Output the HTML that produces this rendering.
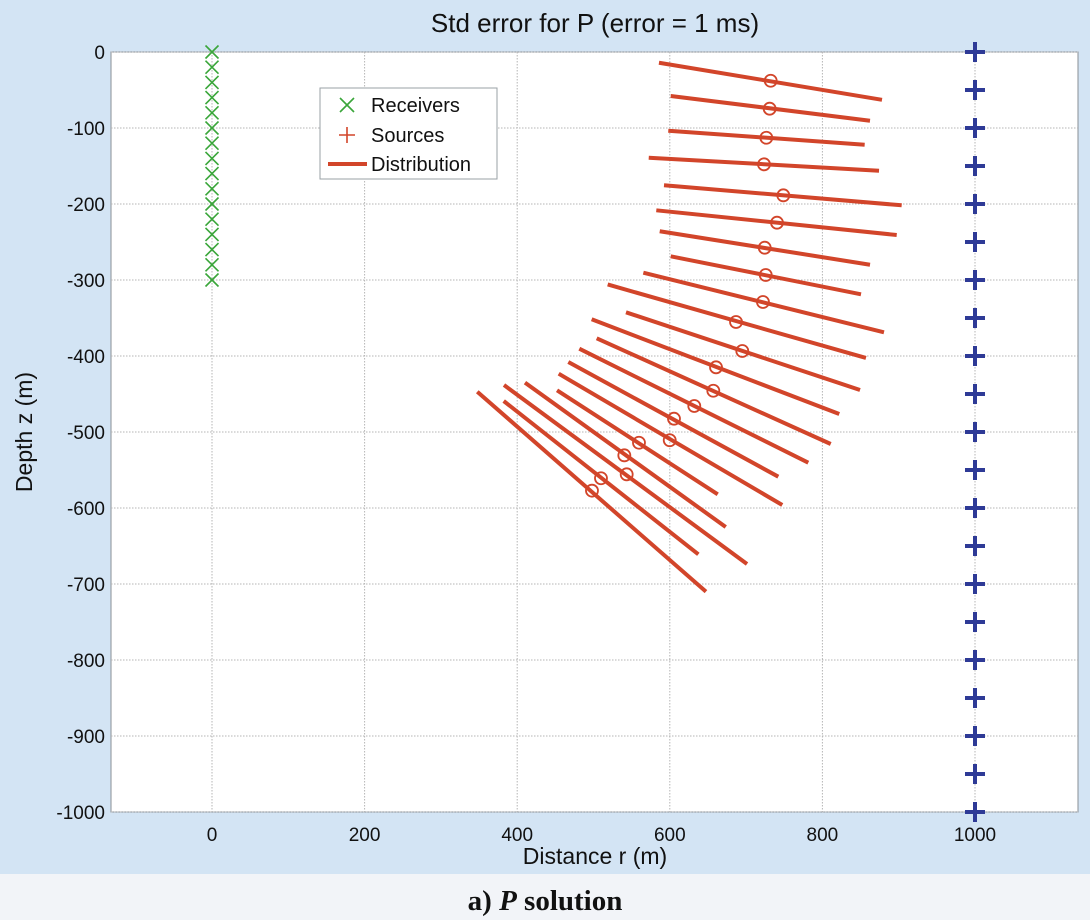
<!DOCTYPE html>
<html><head><meta charset="utf-8">
<style>
html,body{margin:0;padding:0;width:1090px;height:920px;overflow:hidden;background:#f2f4f8;}
svg{display:block;}
text{font-family:"Liberation Sans",sans-serif;}
</style></head>
<body>
<svg id="chart" width="1090" height="920" xmlns="http://www.w3.org/2000/svg">
<rect x="0" y="0" width="1090" height="874" fill="#d3e4f4"/>
<rect x="0" y="874" width="1090" height="46" fill="#f2f4f8"/>
<rect x="111" y="52" width="967" height="760" fill="#ffffff" stroke="#8a8f96" stroke-width="1"/>
<g id="grid"></g>
<g id="ticks"></g>
<g id="marks"></g>
<text x="595" y="32" text-anchor="middle" font-size="26" fill="#111">Std error for P (error = 1 ms)</text>
<text x="595" y="864" text-anchor="middle" font-size="23" fill="#111">Distance r (m)</text>
<text x="32" y="432" text-anchor="middle" font-size="23" fill="#111" transform="rotate(-90 32 432)">Depth z (m)</text>
<text x="545" y="910" text-anchor="middle" font-size="29" font-weight="bold" fill="#111" style="font-family:'Liberation Serif',serif">a) <tspan font-style="italic">P</tspan> solution</text>
<g>
<rect x="320" y="88" width="177" height="91" fill="#fff" stroke="#9aa0a6" stroke-width="1"/>
<g>
<path d="M340 98 L354 112 M354 98 L340 112" stroke="#3aa63a" stroke-width="1.6" fill="none"/>
<text x="371" y="112" font-size="20" fill="#111">Receivers</text></g>
<g>
<path d="M347 127 L347 143 M339 135 L355 135" stroke="#d2452a" stroke-width="1.6" fill="none"/>
<text x="371" y="142" font-size="20" fill="#111">Sources</text></g>
<g>
<line x1="328" y1="164" x2="367" y2="164" stroke="#d2452a" stroke-width="4"/>
<text x="371" y="171" font-size="20" fill="#111">Distribution</text></g>
</g>
</svg>
<script>
const xTicks=[0,200,400,600,800,1000];
const yTicks=[0,-100,-200,-300,-400,-500,-600,-700,-800,-900,-1000];
const receiverX=0;
const receiverDepths=[0,-20,-40,-60,-80,-100,-120,-140,-160,-180,-200,-220,-240,-260,-280,-300];
const sourceX=1000;
const sourceDepths=[0,-50,-100,-150,-200,-250,-300,-350,-400,-450,-500,-550,-600,-650,-700,-750,-800,-850,-900,-950,-1000];
const distStartX=[585.8,601.2,598.0,572.4,592.4,582.3,586.8,601.2,565.3,518.6,542.6,497.6,504.2,481.4,467.0,454.4,452.2,410.2,382.7,382.3,347.7];
const distStartZ=[-14.1,-57.9,-103.6,-139.1,-175.4,-208.3,-235.9,-268.8,-290.4,-305.9,-342.5,-351.7,-376.7,-390.4,-407.9,-423.3,-445.1,-435.1,-438.2,-459.2,-447.0];
const distEndX=[878.1,862.4,855.4,874.2,903.9,897.4,862.4,850.6,880.7,857.1,849.3,822.1,810.9,781.5,742.2,747.4,662.8,673.3,701.2,637.4,647.4];
const distEndZ=[-62.9,-90.4,-122.0,-156.2,-201.7,-240.8,-279.9,-318.8,-368.8,-402.6,-444.7,-476.3,-515.8,-540.4,-558.8,-596.1,-582.0,-625.0,-673.7,-660.9,-710.1];
const solX=[732.2,730.9,726.5,723.5,748.8,740.5,724.4,725.7,722.1,686.8,695.0,660.6,657.0,632.1,605.5,599.9,559.6,540.4,543.5,509.8,498.0];
const solZ=[-37.8,-74.6,-112.8,-147.8,-188.6,-224.6,-257.5,-293.4,-328.9,-355.3,-393.4,-414.9,-445.7,-465.8,-482.5,-510.9,-514.1,-530.7,-555.7,-560.9,-577.2];

const NS='http://www.w3.org/2000/svg';
const L=111,R=1078,T=52,B=812;
function sx(v){return 212+v*0.763;}
function sy(v){return 52-v*0.76;}
function mk(tag,attrs,parent){const e=document.createElementNS(NS,tag);for(const k in attrs)e.setAttribute(k,attrs[k]);parent.appendChild(e);return e;}
const grid=document.getElementById('grid'),ticks=document.getElementById('ticks'),marks=document.getElementById('marks');
xTicks.forEach(v=>{
  const g=mk('line',{x1:sx(v),x2:sx(v),y1:T,y2:B,stroke:'#b5b5b5','stroke-width':1,'stroke-dasharray':'1.5 1.5'},grid);
  
  
  const t=mk('text',{x:sx(v),y:B+29,'text-anchor':'middle','font-size':19,fill:'#111'},ticks);
  t.textContent=v;
  
  
});
yTicks.forEach(v=>{
  const g=mk('line',{x1:L,x2:R,y1:sy(v),y2:sy(v),stroke:'#b5b5b5','stroke-width':1,'stroke-dasharray':'1.5 1.5'},grid);
  
  
  const t=mk('text',{x:L-6,y:sy(v)+7,'text-anchor':'end','font-size':19,fill:'#111'},ticks);
  t.textContent=v;
  
  
});
for(let i=0;i<distStartX.length;i++){
  const l=mk('line',{x1:sx(distStartX[i]),y1:sy(distStartZ[i]),x2:sx(distEndX[i]),y2:sy(distEndZ[i]),stroke:'#d2452a','stroke-width':4,'stroke-linecap':'butt'},marks);
  
  
}
for(let i=0;i<solX.length;i++){
  const c=mk('circle',{cx:sx(solX[i]),cy:sy(solZ[i]),r:6,fill:'none',stroke:'#d2452a','stroke-width':1.8},marks);
  
  
}
receiverDepths.forEach(z=>{
  const x=sx(receiverX),y=sy(z),d=6.5;
  const p=mk('path',{d:`M${x-d} ${y-d}L${x+d} ${y+d}M${x+d} ${y-d}L${x-d} ${y+d}`,stroke:'#3aa63a','stroke-width':1.6,fill:'none'},marks);
  
  
});
sourceDepths.forEach(z=>{
  const x=sx(sourceX),y=sy(z),d=10;
  const p=mk('path',{d:`M${x-d} ${y}L${x+d} ${y}M${x} ${y-d}L${x} ${y+d}`,stroke:'#2e3a96','stroke-width':4,fill:'none'},marks);
  
  
});
</script>
</body></html>
